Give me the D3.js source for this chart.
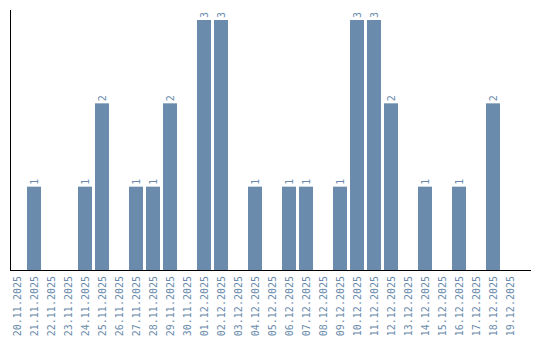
<!DOCTYPE html>
<html>
<head>
<meta charset="utf-8">
<script src="https://cdn.jsdelivr.net/npm/d3@7"></script>
<style>
  body { margin: 0; background: #fff; }
  svg { display: block; }
</style>
</head>
<body>
<svg id="chart"></svg>
<script>
var width = 540, height = 340;
var marginLeft = 10, marginTop = 10, baseY = 270, axisEnd = 530;
var barColor = '#6a8bab';

// one bar per day
var days = ['20.11.2025','21.11.2025','22.11.2025','23.11.2025','24.11.2025','25.11.2025',
  '26.11.2025','27.11.2025','28.11.2025','29.11.2025','30.11.2025','01.12.2025',
  '02.12.2025','03.12.2025','04.12.2025','05.12.2025','06.12.2025','07.12.2025',
  '08.12.2025','09.12.2025','10.12.2025','11.12.2025','12.12.2025','13.12.2025',
  '14.12.2025','15.12.2025','16.12.2025','17.12.2025','18.12.2025','19.12.2025'];
var counts = [0,1,0,0,1,2,0,1,1,2,0,3,3,0,1,0,1,1,0,1,3,3,2,0,1,0,1,0,2,0];

let svg = d3.select('#chart').attr('width', width).attr('height', height);

let x = d3.scaleBand().domain(days).range([marginLeft, marginLeft + 17 * days.length])
    .paddingInner(3/17).paddingOuter(1.5/17).align(0);
let y = d3.scaleLinear().domain([0, d3.max(counts) * 1.04]).range([baseY, marginTop]);

let data = days.map(function(d, i) { return {day: d, value: counts[i]}; });
let nonZero = data.filter(function(d) { return d.value > 0; });

svg.selectAll('.bar')
    .data(nonZero)
    .enter()
    .append('rect')
    .attr('class', 'bar')
    .attr('x', function(d) { return x(d.day); })
    .attr('y', function(d) { return y(d.value); })
    .attr('width', x.bandwidth())
    .attr('height', function(d) { return baseY - y(d.value); })
    .attr('fill', barColor);

// value labels, rotated over the bars
svg.selectAll('.val')
    .data(nonZero)
    .enter()
    .append('text')
    .attr('class', 'val')
    .attr('transform', function(d) {
        return 'translate(' + (x(d.day) + x.bandwidth()/2 + 3.5) + ',' + (y(d.value) - 2) + ') rotate(-90)';
    })
    .attr('font-family', 'DejaVu Sans Mono, monospace')
    .attr('font-size', '10px')
    .attr('fill', barColor)
    .text(function(d) { return d.value; });

// axis lines
svg.append('line').attr('x1', marginLeft + 0.5).attr('x2', marginLeft + 0.5).attr('y1', marginTop).attr('y2', baseY + 1)
    .attr('stroke', '#000').attr('stroke-width', 1);
svg.append('line').attr('x1', marginLeft).attr('x2', axisEnd + 1).attr('y1', baseY + 0.5).attr('y2', baseY + 0.5)
    .attr('stroke', '#000').attr('stroke-width', 1);

// date labels
svg.selectAll('.day')
    .data(days)
    .enter()
    .append('text')
    .attr('class', 'day')
    .attr('transform', function(d) {
        return 'translate(' + (x(d) + x.bandwidth()/2 + 3.5) + ',' + (baseY + 6) + ') rotate(-90)';
    })
    .attr('text-anchor', 'end')
    .attr('font-family', 'DejaVu Sans Mono, monospace')
    .attr('font-size', '10px')
    .attr('fill', barColor)
    .text(function(d) { return d; });
</script>
</body>
</html>
